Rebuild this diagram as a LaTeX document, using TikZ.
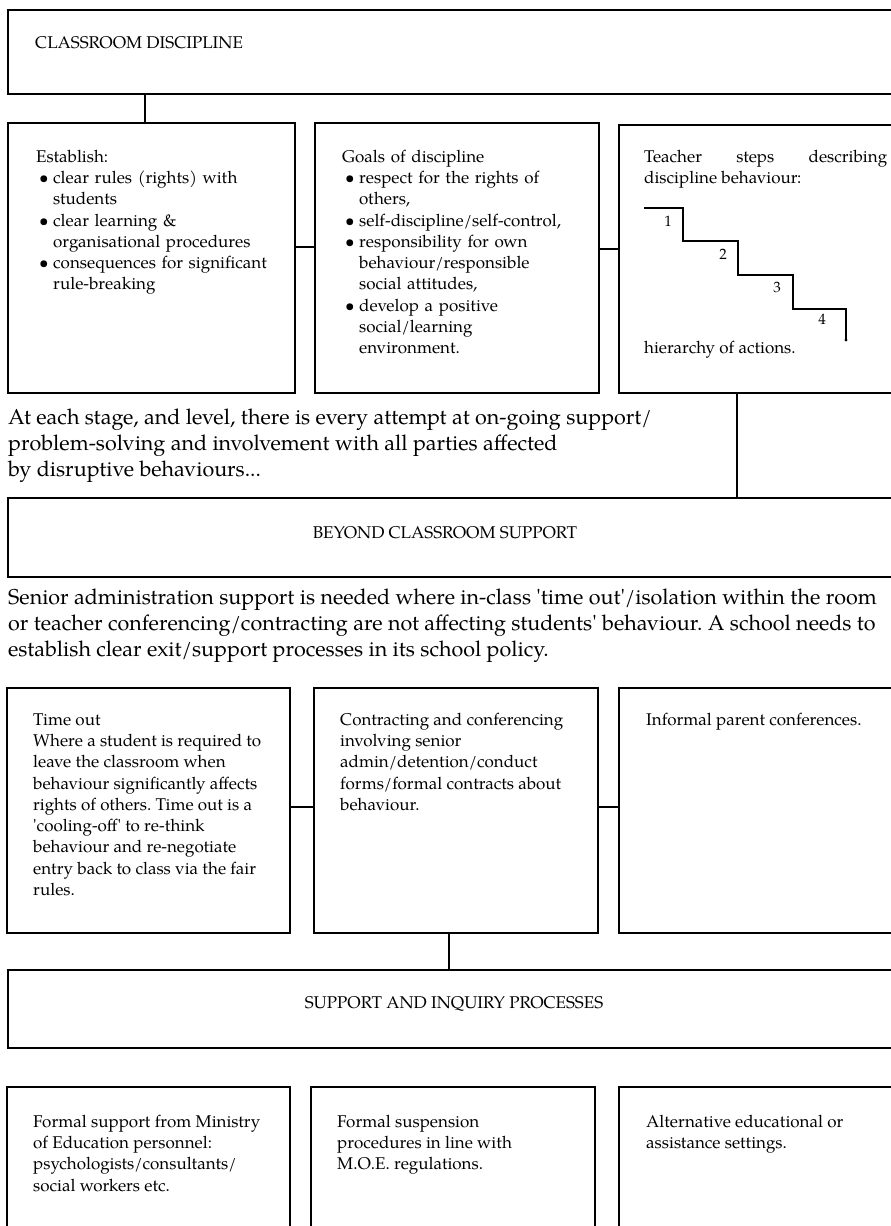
\documentclass[tikz,border=0pt]{standalone}
\usepackage{fontspec}
\setmainfont{TeX Gyre Pagella}
\usetikzlibrary{calc}
\frenchspacing
\newcommand\bulitem[1]{\par\hangindent=17pt\hangafter=1\noindent\hspace*{3pt}\makebox[14pt][l]{\textbullet}#1\par}
\tikzset{
  box/.style={draw, line width=1.9pt, rectangle, inner sep=0pt, outer sep=0pt, anchor=north west},
  link/.style={line width=1.9pt},
  txt/.style={font=\fontsize{17}{21.3}\selectfont, inner sep=0pt, anchor=north west, align=left},
  btxt/.style={txt, text width=262pt, execute at begin node={\setlength{\parindent}{0pt}\setlength{\parskip}{0pt}}},
  para/.style={font=\fontsize{21.5}{26}\selectfont, inner sep=0pt, anchor=north west, align=left},
  head/.style={font=\fontsize{17}{20}\selectfont, inner sep=0pt},
  stepline/.style={line width=2pt},
  stepnum/.style={font=\fontsize{15}{17}\selectfont, inner sep=0pt}
}
\begin{document}
\begin{tikzpicture}[x=1pt,y=-1pt]
\useasboundingbox (0,0) rectangle (891,1226);
\clip (0,0) rectangle (891,1226);
\fill[white] (0,0) rectangle (891,1226);

% top box
\node[box, minimum width=892pt, minimum height=84pt] (top) at (8,10) {};
\node[head, anchor=base west] (toptxt) at (35,48) {CLASSROOM DISCIPLINE};

% row 1
\node[box, minimum width=287pt, minimum height=270pt] (b1) at (8,123) {};
\node[box, minimum width=284pt, minimum height=270pt] (b2) at (315,123) {};
\node[box, minimum width=281pt, minimum height=268pt] (b3) at (619,125) {};

\node[btxt] (b1t) at (36,147) {\strut Establish:
\bulitem{clear rules (rights) with\newline students}
\bulitem{clear learning \&\newline organisational procedures}
\bulitem{consequences for significant\newline rule-breaking}};

\node[btxt] (b2t) at (342,147) {\strut Goals of discipline
\bulitem{respect for the rights of\newline others,}
\bulitem{self-discipline/self-control,}
\bulitem{responsibility for own\newline behaviour/responsible\newline social attitudes,}
\bulitem{develop a positive\newline social/learning\newline environment.}};

\node[txt] (b3t) at (644,147) {\strut\makebox[243pt][s]{Teacher steps describing}\\discipline behaviour:};
\draw[stepline] (644,208) -- (683,208) -- (683,241) -- (738,241) -- (738,275) -- (793,275) -- (793,309) -- (846,309) -- (846,340);
\fill (846,340) circle (1.6pt);
\node[stepnum] (s1) at (668,221) {1};
\node[stepnum] (s2) at (723,254) {2};
\node[stepnum] (s3) at (777,287) {3};
\node[stepnum] (s4) at (822,319) {4};
\node[txt] (b3h) at (644,338) {\strut hierarchy of actions.};

\draw[link] ([xshift=137pt]b1.north west) -- ([xshift=137pt]b1.north west |- top.south);
\draw[link] ([yshift=11pt]b1.east) -- ([yshift=11pt]b1.east -| b2.west);
\draw[link] ([yshift=9pt]b2.east) -- ([yshift=9pt]b2.east -| b3.west);

% paragraph 1
\node[para] (p1) at (8,406) {\strut At each stage, and level, there is every attempt at on-going support/\\problem-solving and involvement with all parties affected\\by disruptive behaviours...};

% beyond box
\node[box, minimum width=892pt, minimum height=79pt] (beyond) at (8,498) {};
\node[head, anchor=base] (beyondtxt) at (445,538) {BEYOND CLASSROOM SUPPORT};
\draw[link] ([xshift=-22.5pt]b3.south) -- ([xshift=-22.5pt]b3.south |- beyond.north);

% paragraph 2
\node[para] (p2) at (8,586) {\strut Senior administration support is needed where in-class \textquotesingle time out\textquotesingle/isolation within the room\\or teacher conferencing/contracting are not affecting students\textquotesingle{} behaviour. A school needs to\\establish clear exit/support processes in its school policy.};

% row 2
\node[box, minimum width=283pt, minimum height=245pt] (c1) at (7,688) {};
\node[box, minimum width=284pt, minimum height=245pt] (c2) at (314,688) {};
\node[box, minimum width=281pt, minimum height=245pt] (c3) at (619,688) {};

\node[txt] (c1t) at (33,710) {\strut Time out\\Where a student is required to\\leave the classroom when\\behaviour significantly affects\\rights of others. Time out is a\\\textquotesingle cooling-off\textquotesingle{} to re-think\\behaviour and re-negotiate\\entry back to class via the fair\\rules.};
\node[txt] (c2t) at (340,710) {\strut Contracting and conferencing\\involving senior\\admin/detention/conduct\\forms/formal contracts about\\behaviour.};
\node[txt] (c3t) at (646,710) {\strut Informal parent conferences.};

\draw[link] ([yshift=3.5pt]c1.east) -- ([yshift=3.5pt]c1.east -| c2.west);
\draw[link] ([yshift=3.5pt]c2.east) -- ([yshift=3.5pt]c2.east -| c3.west);

% support box
\node[box, minimum width=892pt, minimum height=78pt] (support) at (8,970) {};
\node[head, anchor=base] (supporttxt) at (454,1008) {SUPPORT AND INQUIRY PROCESSES};
\draw[link] ([xshift=-7pt]c2.south) -- ([xshift=-7pt]c2.south |- support.north);

% row 3
\node[box, minimum width=283pt, minimum height=160pt] (d1) at (7,1087) {};
\node[box, minimum width=284pt, minimum height=160pt] (d2) at (311,1087) {};
\node[box, minimum width=281pt, minimum height=160pt] (d3) at (619,1087) {};

\node[txt] (d1t) at (33,1112) {\strut Formal support from Ministry\\of Education personnel:\\psychologists/consultants/\\social workers etc.};
\node[txt] (d2t) at (337,1112) {\strut Formal suspension\\procedures in line with\\M.O.E. regulations.};
\node[txt] (d3t) at (646,1112) {\strut Alternative educational or\\assistance settings.};
\end{tikzpicture}
\end{document}
